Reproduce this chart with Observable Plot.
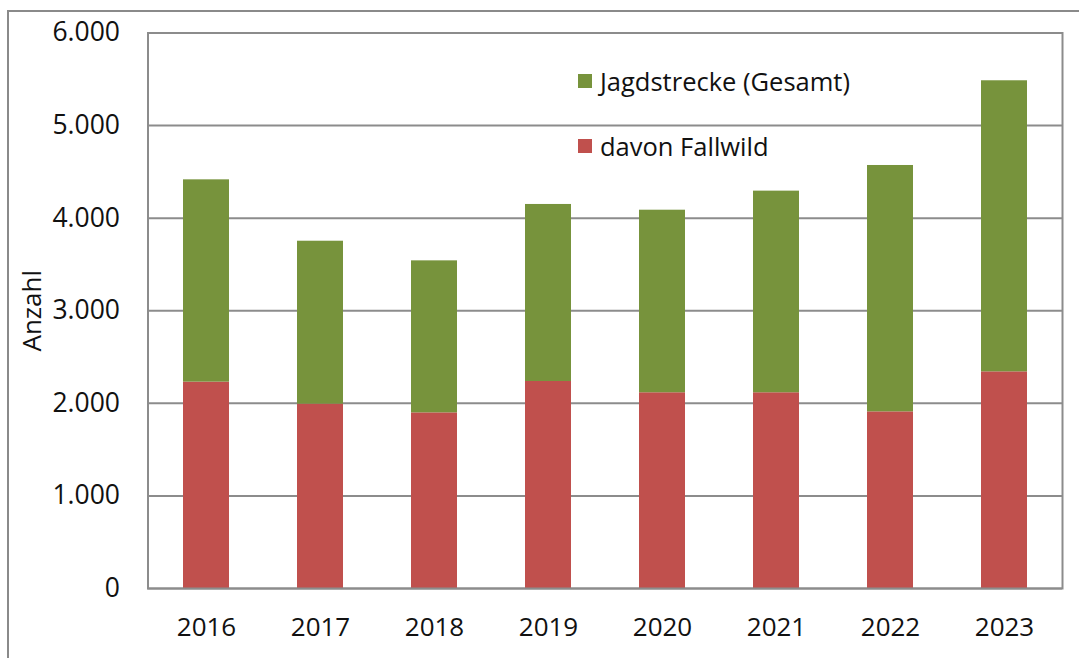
<!DOCTYPE html>
<html>
<head>
<meta charset="utf-8">
<script src="https://cdn.jsdelivr.net/npm/d3@7"></script>
<script src="https://cdn.jsdelivr.net/npm/@observablehq/plot@0.6"></script>
<style>
  html, body { margin: 0; padding: 0; background: #fff; }
  body { width: 1079px; height: 658px; position: relative; overflow: hidden; font-family: "Open Sans", sans-serif; }
  #border { position: absolute; left: 7px; top: 10px; width: 1090px; height: 670px; border: 2px solid #8a8a8a; box-sizing: border-box; }
  #chart { position: absolute; left: 0; top: 0; }
  .legend { position: absolute; left: 578px; font-size: 25.5px; color: #111; display: flex; align-items: center; white-space: nowrap; }
  .legend span.sw { display: inline-block; width: 14px; height: 14px; margin-right: 8px; }
</style>
</head>
<body>
<div id="border"></div>
<div id="chart"></div>
<div class="legend" style="top:64px"><span class="sw" style="background:#77933C"></span>Jagdstrecke (Gesamt)</div>
<div class="legend" style="top:129px"><span class="sw" style="background:#C0504D"></span>davon Fallwild</div>
<script>
const years = ["2016", "2017", "2018", "2019", "2020", "2021", "2022", "2023"];
const gesamt = [4414, 3751, 3539, 4148, 4086, 4292, 4569, 5484];
const fallwild = [2229, 1991, 1897, 2236, 2114, 2114, 1908, 2340];
const yTicks = [0, 1000, 2000, 3000, 4000, 5000, 6000];

const rows = years.map((y, i) => ({year: y, gesamt: gesamt[i], fallwild: fallwild[i]}));
const de = d3.formatLocale({decimal: ",", thousands: ".", grouping: [3], currency: ["", " €"]});
const fmt = de.format(",");

const chart = Plot.plot({
  width: 1079,
  height: 658,
  marginLeft: 147.5,
  marginTop: 32.5,
  marginRight: 17,
  marginBottom: 70,
  style: {fontFamily: "Open Sans, sans-serif", background: "transparent", color: "#111"},
  x: {domain: years, paddingInner: 0.6, paddingOuter: 0.3, label: null},
  y: {domain: [0, 6000], ticks: yTicks, label: null},
  marks: [
    Plot.gridY(yTicks, {stroke: "#8c8c8c", strokeOpacity: 1, strokeWidth: 2}),
    Plot.barY(rows, {x: "year", y1: 0, y2: "fallwild", fill: "#C0504D"}),
    Plot.barY(rows, {x: "year", y1: "fallwild", y2: "gesamt", fill: "#77933C"}),
    Plot.frame({stroke: "#8c8c8c", strokeWidth: 2}),
    Plot.axisY(yTicks, {tickSize: 0, tickPadding: 28, tickFormat: fmt, fontSize: 26.5, label: null}),
    Plot.axisX({tickSize: 0, tickPadding: 29, fontSize: 26, label: null}),
    Plot.text(["Anzahl"], {frameAnchor: "left", textAnchor: "middle", dx: -115, rotate: -90, fontSize: 26, fill: "#111"})
  ]
});
document.getElementById("chart").appendChild(chart);
</script>
</body>
</html>
